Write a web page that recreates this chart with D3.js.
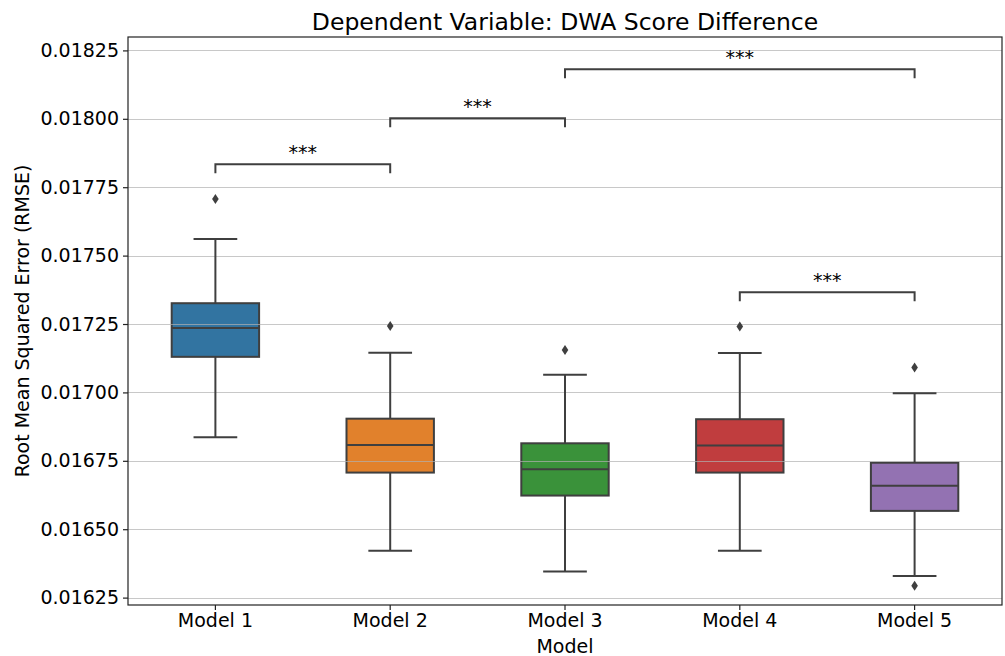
<!DOCTYPE html>
<html>
<head>
<meta charset="utf-8">
<script src="https://cdn.jsdelivr.net/npm/d3@7"></script>
<style>
	body { margin: 0; background: #fff; }
	text { font-family: 'DejaVu Sans', sans-serif; fill: #000; }
</style>
</head>
<body>
<div id="viz"></div>
<script>
// values
const MODELS = ['Model 1', 'Model 2', 'Model 3', 'Model 4', 'Model 5']
const COLORS = ['#3274a1', '#e1812c', '#3a923a', '#c03d3e', '#9372b2']
const WHISKER_LO = [0.016836, 0.016421, 0.016345, 0.016421, 0.016329]
const Q1 = [0.01713, 0.016707, 0.016623, 0.016707, 0.016567]
const MEDIAN = [0.017235, 0.016808, 0.016719, 0.016806, 0.016659]
const Q3 = [0.017326, 0.016904, 0.016814, 0.016902, 0.016743]
const WHISKER_HI = [0.017561, 0.017145, 0.017065, 0.017144, 0.016997]
const OUTLIERS = [[0.017707], [0.017243], [0.017155], [0.017241], [0.017091, 0.016293]]

const BRACKET_FROM = ['Model 1', 'Model 2', 'Model 3', 'Model 4']
const BRACKET_TO = ['Model 2', 'Model 3', 'Model 5', 'Model 5']
const BRACKET_Y = [0.017834, 0.018002, 0.018181, 0.017366]
const BRACKET_LABEL = ['***', '***', '***', '***']

const Y_TICKS = d3.range(0, 9).map((i) => 0.01625 + i * 0.00025)
const Y_DOMAIN = [0.016223, 0.018299]

let WIDTH = 1005,
	HEIGHT = 656,
	LEFT = 128,
	RIGHT = 1002,
	TOP = 37,
	BOTTOM = 605

const LINE = '#3f3f3f'

let svg = d3
	.select('#viz')
	.append('svg')
	.attr('width', WIDTH)
	.attr('height', HEIGHT)

let x = d3.scaleBand().domain(MODELS).range([LEFT, RIGHT])
let y = d3.scaleLinear().domain(Y_DOMAIN).range([BOTTOM, TOP])

const cx = (m) => x(m) + x.bandwidth() / 2
const boxW = x.bandwidth() * 0.5

let data = MODELS.map((m, i) => ({
	name: m,
	color: COLORS[i],
	lo: WHISKER_LO[i],
	q1: Q1[i],
	med: MEDIAN[i],
	q3: Q3[i],
	hi: WHISKER_HI[i],
	out: OUTLIERS[i]
}))

// boxes (patches sit under the grid, like matplotlib)
svg.append('g')
	.selectAll('rect')
	.data(data)
	.enter()
	.append('rect')
	.attr('x', (d) => cx(d.name) - boxW / 2)
	.attr('y', (d) => y(d.q3))
	.attr('width', boxW)
	.attr('height', (d) => y(d.q1) - y(d.q3))
	.attr('fill', (d) => d.color)
	.attr('stroke', LINE)
	.attr('stroke-width', 2)

// grid
svg.append('g')
	.selectAll('line')
	.data(Y_TICKS)
	.enter()
	.append('line')
	.attr('x1', LEFT)
	.attr('x2', RIGHT)
	.attr('y1', (d) => Math.round(y(d)) + 0.5)
	.attr('y2', (d) => Math.round(y(d)) + 0.5)
	.attr('stroke', '#b0b0b0')
	.attr('stroke-opacity', 0.7)
	.attr('stroke-width', 1.2)

// whiskers, caps, medians
let lines = svg.append('g').attr('stroke', LINE).attr('stroke-width', 2)
data.forEach((d) => {
	let c = cx(d.name)
	lines.append('line').attr('x1', c).attr('x2', c).attr('y1', y(d.q1)).attr('y2', y(d.lo))
	lines.append('line').attr('x1', c).attr('x2', c).attr('y1', y(d.q3)).attr('y2', y(d.hi))
	lines.append('line').attr('x1', c - boxW / 4).attr('x2', c + boxW / 4).attr('y1', y(d.lo)).attr('y2', y(d.lo))
	lines.append('line').attr('x1', c - boxW / 4).attr('x2', c + boxW / 4).attr('y1', y(d.hi)).attr('y2', y(d.hi))
	lines.append('line').attr('x1', c - boxW / 2).attr('x2', c + boxW / 2).attr('y1', y(d.med)).attr('y2', y(d.med))
})

// outliers as thin diamonds
svg.append('g')
	.selectAll('path')
	.data(data.flatMap((d) => d.out.map((v) => ({ name: d.name, v: v }))))
	.enter()
	.append('path')
	.attr('d', (d) => {
		let c = cx(d.name),
			yy = y(d.v)
		return `M${c},${yy - 5}L${c + 3.3},${yy}L${c},${yy + 5}L${c - 3.3},${yy}Z`
	})
	.attr('fill', LINE)

// significance brackets
let br = svg.append('g')
BRACKET_FROM.forEach((from, i) => {
	let x1 = cx(from),
		x2 = cx(BRACKET_TO[i]),
		yy = y(BRACKET_Y[i])
	br.append('path')
		.attr('d', `M${x1},${yy + 9}V${yy}H${x2}V${yy + 9}`)
		.attr('fill', 'none')
		.attr('stroke', LINE)
		.attr('stroke-width', 2)
	br.append('text')
		.attr('x', (x1 + x2) / 2)
		.attr('y', yy - 5)
		.attr('text-anchor', 'middle')
		.style('font-size', '19px')
		.text(BRACKET_LABEL[i])
})

// frame
svg.append('rect')
	.attr('x', LEFT)
	.attr('y', TOP)
	.attr('width', RIGHT - LEFT)
	.attr('height', BOTTOM - TOP)
	.attr('fill', 'none')
	.attr('stroke', '#222')
	.attr('stroke-width', 1.2)

// axes
let yAxis = svg
	.append('g')
	.attr('transform', `translate(${LEFT},0)`)
	.call(d3.axisLeft(y).tickValues(Y_TICKS).tickFormat(d3.format('.5f')).tickSize(5).tickPadding(4))
let xAxis = svg
	.append('g')
	.attr('transform', `translate(0,${BOTTOM})`)
	.call(d3.axisBottom(x).tickSize(5).tickPadding(4))

;[xAxis, yAxis].forEach((a) => {
	a.select('.domain').remove()
	a.selectAll('.tick line').attr('stroke', '#222').attr('stroke-width', 1.2)
	a.selectAll('.tick text')
		.style('font-family', "'DejaVu Sans', sans-serif")
		.style('font-size', '19px')
		.attr('fill', '#000')
})

// titles
svg.append('text')
	.attr('x', (LEFT + RIGHT) / 2)
	.attr('y', 30)
	.attr('text-anchor', 'middle')
	.style('font-size', '23.5px')
	.text('Dependent Variable: DWA Score Difference')

svg.append('text')
	.attr('x', (LEFT + RIGHT) / 2)
	.attr('y', 653)
	.attr('text-anchor', 'middle')
	.style('font-size', '19px')
	.text('Model')

svg.append('text')
	.attr('transform', `translate(29,${(TOP + BOTTOM) / 2}) rotate(-90)`)
	.attr('text-anchor', 'middle')
	.style('font-size', '19px')
	.text('Root Mean Squared Error (RMSE)')
</script>
</body>
</html>
